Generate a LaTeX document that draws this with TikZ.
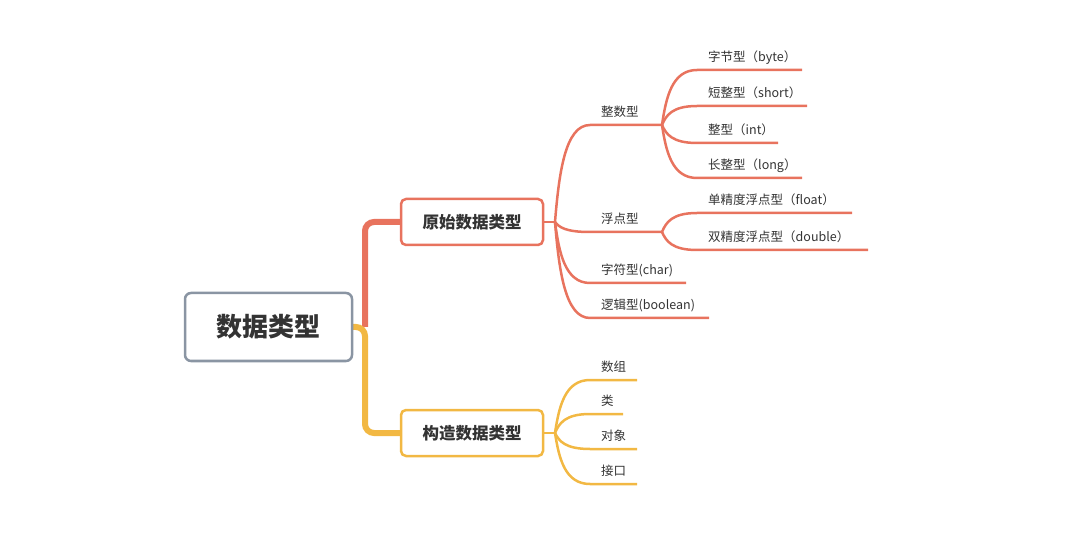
\documentclass[tikz,border=0pt]{standalone}
\usepackage{fontspec}
\setmainfont{Noto Sans CJK SC}
\definecolor{rc}{HTML}{E8735E}
\definecolor{yc}{HTML}{F2B843}
\definecolor{gc}{HTML}{8A95A3}
\definecolor{tc}{HTML}{333333}
\begin{document}
\begin{tikzpicture}[x=1pt,y=-1pt,
  rootbox/.style={draw=gc,line width=2.5pt,rounded corners=6pt,fill=white,minimum width=167pt,minimum height=68pt,font=\fontsize{26}{30}\selectfont\bfseries,text=tc},
  subbox/.style={line width=2.5pt,rounded corners=5pt,fill=white,minimum width=142pt,minimum height=46pt,font=\fontsize{16.5}{20}\selectfont\bfseries,text=tc},
  leaf/.style={anchor=base west,inner sep=0pt,font=\fontsize{12.5}{15}\selectfont,text=tc},
  rl/.style={draw=rc,line width=2.5pt},
  yl/.style={draw=yc,line width=2.5pt},
  trunk/.style={line width=6pt,rounded corners=9pt}]
\useasboundingbox (0,0) rectangle (1080,548);

% trunks
\coordinate (tj) at (365,327);
\draw[trunk,draw=rc] (tj) -- (365,222) -- (401,222);
\draw[trunk,draw=yc] (352,327) -- (tj) -- (365,433) -- (401,433);

\node[rootbox] (root) at (268.5,327) {数据类型};
\node[subbox,draw=rc] (p) at (472,222) {原始数据类型};
\node[subbox,draw=yc] (c) at (472,433) {构造数据类型};

% primitive branch
\coordinate (pb) at (555,222);
\draw[rl] (p.east) -- (pb);
\coordinate (intb) at (662,125);
\coordinate (fltb) at (662,232);
\coordinate (chare) at (686,283);
\coordinate (boole) at (709,318);
\draw[rl] (pb) .. controls (559,173.5) and (565,125) .. (590,125) -- (intb);
\draw[rl] (pb) .. controls (559,227) and (565,232) .. (590,232) -- (fltb);
\draw[rl] (pb) .. controls (559,252.5) and (565,283) .. (590,283) -- (chare);
\draw[rl] (pb) .. controls (559,270) and (565,318) .. (590,318) -- (boole);
\node[leaf] (tint) at (601,116.5) {整数型};
\node[leaf] (tflt) at (601,223.5) {浮点型};
\node[leaf] (tchar) at (601,274.5) {字符型(char)};
\node[leaf] (tbool) at (601,309.5) {逻辑型(boolean)};

% integer children
\coordinate (bytee) at (802,70);
\coordinate (shorte) at (807,106);
\coordinate (inte) at (778,143);
\coordinate (longe) at (802,178);
\draw[rl] (intb) .. controls (666,97.5) and (672,70) .. (697,70) -- (bytee);
\draw[rl] (intb) .. controls (666,115.5) and (672,106) .. (697,106) -- (shorte);
\draw[rl] (intb) .. controls (666,134) and (672,143) .. (697,143) -- (inte);
\draw[rl] (intb) .. controls (666,151.5) and (672,178) .. (697,178) -- (longe);
\node[leaf] (tbyte) at (708,61.5) {字节型（byte）};
\node[leaf] (tshort) at (708,97.5) {短整型（short）};
\node[leaf] (tint2) at (708,134.5) {整型（int）};
\node[leaf] (tlong) at (708,169.5) {长整型（long）};

% float children
\coordinate (floate) at (852,213);
\coordinate (doublee) at (868,250);
\draw[rl] (fltb) .. controls (666,222.5) and (672,213) .. (697,213) -- (floate);
\draw[rl] (fltb) .. controls (666,241) and (672,250) .. (697,250) -- (doublee);
\node[leaf] (tfloat) at (708,204.5) {单精度浮点型（float）};
\node[leaf] (tdouble) at (708,241.5) {双精度浮点型（double）};

% composite branch
\coordinate (cb) at (555,433);
\draw[yl] (c.east) -- (cb);
\coordinate (arre) at (637,380);
\coordinate (clse) at (623,414);
\coordinate (obje) at (637,449);
\coordinate (ife) at (637,484);
\draw[yl] (cb) .. controls (559,406.5) and (565,380) .. (590,380) -- (arre);
\draw[yl] (cb) .. controls (559,423.5) and (565,414) .. (590,414) -- (clse);
\draw[yl] (cb) .. controls (559,441) and (565,449) .. (590,449) -- (obje);
\draw[yl] (cb) .. controls (559,458.5) and (565,484) .. (590,484) -- (ife);
\node[leaf] (tarr) at (601,371.5) {数组};
\node[leaf] (tcls) at (601,405.5) {类};
\node[leaf] (tobj) at (601,440.5) {对象};
\node[leaf] (tif) at (601,475.5) {接口};
\end{tikzpicture}
\end{document}
